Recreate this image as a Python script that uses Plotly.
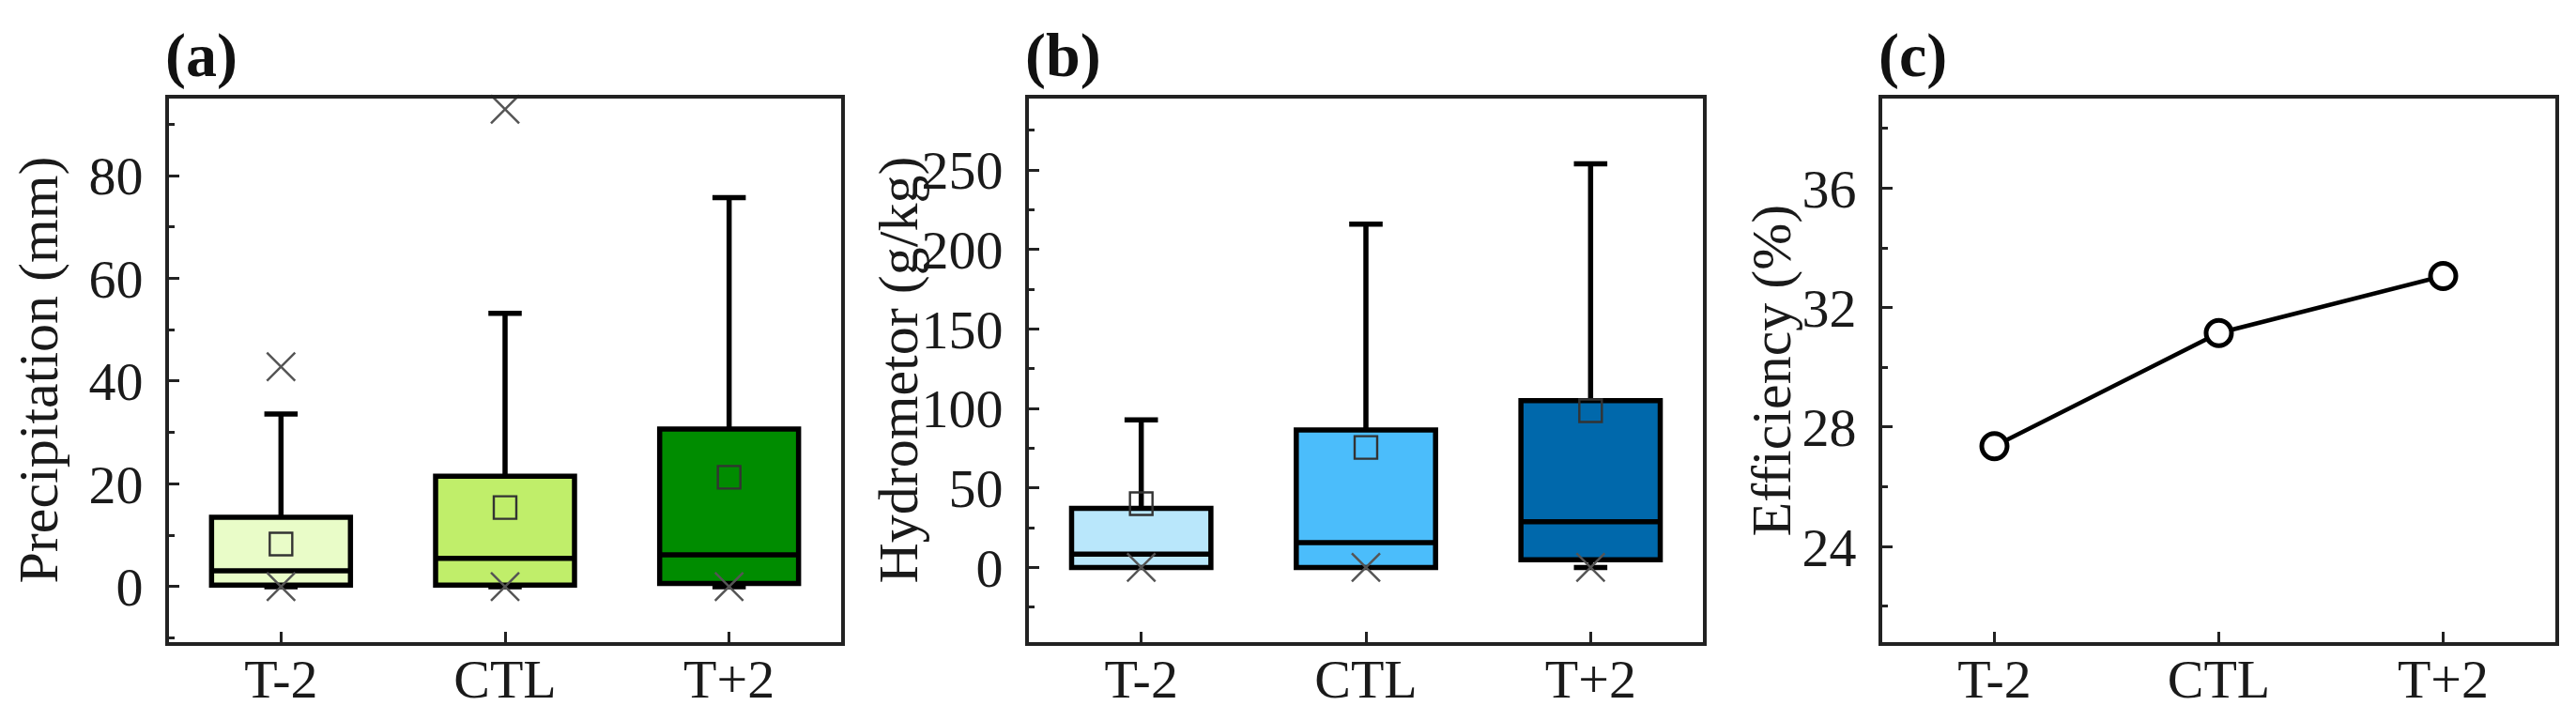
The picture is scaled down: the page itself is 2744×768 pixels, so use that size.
import plotly.graph_objects as go

# ---------------- data ----------------
cats = ["T-2", "CTL", "T+2"]

precip_lower = [0.0, 0.0, 0.0]
precip_q1 = [0.3, 0.3, 0.6]
precip_median = [3.1, 5.5, 6.2]
precip_q3 = [13.5, 21.5, 30.7]
precip_upper = [33.6, 53.2, 75.7]
precip_mean = [8.3, 15.4, 21.3]
precip_max = [42.8, 92.9, None]
precip_min = [0.0, 0.0, 0.0]

hydro_lower = [0.0, 0.0, 0.0]
hydro_q1 = [0.0, 0.0, 4.9]
hydro_median = [8.4, 15.6, 28.8]
hydro_q3 = [37.2, 86.5, 105.0]
hydro_upper = [92.8, 216.0, 254.0]
hydro_mean = [40.1, 75.5, 98.6]
hydro_min = [0.0, 0.0, 0.0]

efficiency = [27.36, 31.15, 33.06]

precip_colors = ["#e9fcc8", "#c0ee6a", "#008c00"]
hydro_colors = ["#b9e7fb", "#4bbdfb", "#0068ab"]

FONT = "Liberation Serif"
W, H = 2744, 768

fig = go.Figure()


def add_boxes(xa, ya, lower, q1, med, q3, upper, colors):
    for i, c in enumerate(cats):
        fig.add_trace(go.Box(
            x=[c], q1=[q1[i]], median=[med[i]], q3=[q3[i]],
            lowerfence=[lower[i]], upperfence=[upper[i]],
            fillcolor=colors[i], line=dict(color="black", width=5.5),
            width=0.62, whiskerwidth=0.24, boxpoints=False,
            xaxis=xa, yaxis=ya, showlegend=False, hoverinfo="skip"))


def add_markers(xa, ya, mean, mins, maxs):
    fig.add_trace(go.Scatter(
        x=cats, y=mean, mode="markers", xaxis=xa, yaxis=ya, showlegend=False,
        marker=dict(symbol="square-open", size=24, color="#333333",
                    line=dict(width=2.4, color="#333333"))))
    xs, ys = [], []
    for i, c in enumerate(cats):
        for v in (mins[i], maxs[i] if maxs else None):
            if v is not None:
                xs.append(c)
                ys.append(v)
    fig.add_trace(go.Scatter(
        x=xs, y=ys, mode="markers", xaxis=xa, yaxis=ya, showlegend=False,
        cliponaxis=False,
        marker=dict(symbol="x-thin", size=30, color="#555555",
                    line=dict(width=2.5, color="#555555"))))


add_boxes("x", "y", precip_lower, precip_q1, precip_median, precip_q3,
          precip_upper, precip_colors)
add_markers("x", "y", precip_mean, precip_min, precip_max)

add_boxes("x2", "y2", hydro_lower, hydro_q1, hydro_median, hydro_q3,
          hydro_upper, hydro_colors)
add_markers("x2", "y2", hydro_mean, hydro_min, None)

fig.add_trace(go.Scatter(
    x=cats, y=efficiency, mode="lines+markers", xaxis="x3", yaxis="y3",
    showlegend=False, line=dict(color="black", width=4.5),
    marker=dict(symbol="circle", size=27, color="white",
                line=dict(width=5, color="black"))))

ydom = [1 - 676 / H, 1 - 97 / H]
xdoms = [[172 / W, 888 / W], [1088 / W, 1806 / W], [1997 / W, 2714 / W]]

axis_common = dict(showline=True, mirror=True, linecolor="#222222", linewidth=4,
                   showgrid=False, zeroline=False,
                   tickfont=dict(family=FONT, size=58, color="#1a1a1a"),
                   ticks="inside", tickcolor="#222222", tickwidth=3, ticklen=11)

for k, dom in enumerate(xdoms):
    sfx = "" if k == 0 else str(k + 1)
    fig.layout["xaxis" + sfx] = dict(axis_common, domain=dom, anchor="y" + sfx,
                                     type="category", range=[-0.5, 2.5],
                                     ticklabelstandoff=-15)

fig.layout["yaxis"] = dict(axis_common, domain=ydom, anchor="x",
                           range=[-10.8, 95.0], tickvals=[0, 20, 40, 60, 80],
                           ticklabelstandoff=12,
                           minor=dict(ticks="inside", dtick=10, tick0=0, ticklen=6,
                                      tickwidth=2.5, tickcolor="#222222"))
fig.layout["yaxis2"] = dict(axis_common, domain=ydom, anchor="x2",
                            range=[-47, 295], tickvals=[0, 50, 100, 150, 200, 250],
                            ticklabelstandoff=12,
                            minor=dict(ticks="inside", dtick=25, tick0=0, ticklen=6,
                                       tickwidth=2.5, tickcolor="#222222"))
fig.layout["yaxis3"] = dict(axis_common, domain=ydom, anchor="x3",
                            range=[20.8, 39.0], tickvals=[24, 28, 32, 36],
                            ticklabelstandoff=12,
                            minor=dict(ticks="inside", dtick=2, tick0=0, ticklen=6,
                                       tickwidth=2.5, tickcolor="#222222"))

ycenter = (ydom[0] + ydom[1]) / 2
annotations = []
for xpx, txt in [(32, "Precipitation (mm)"), (948, "Hydrometor (g/kg)"),
                 (1878, "Efficiency (%)")]:
    annotations.append(dict(xref="paper", yref="paper", x=xpx / W, y=ycenter,
                            xanchor="center", yanchor="middle", textangle=-90,
                            text=txt, showarrow=False,
                            font=dict(family=FONT, size=60, color="#1a1a1a")))
for dom, lab in zip(xdoms, ["(a)", "(b)", "(c)"]):
    annotations.append(dict(xref="paper", yref="paper", x=dom[0], y=1 - 90 / H,
                            xanchor="left", yanchor="bottom", xshift=-6,
                            text="<b>" + lab + "</b>", showarrow=False,
                            font=dict(family=FONT, size=66, color="#111111")))

fig.update_layout(width=W, height=H, margin=dict(l=0, r=0, t=0, b=0),
                  paper_bgcolor="white", plot_bgcolor="white",
                  annotations=annotations, showlegend=False)

fig.write_html("out.html")
